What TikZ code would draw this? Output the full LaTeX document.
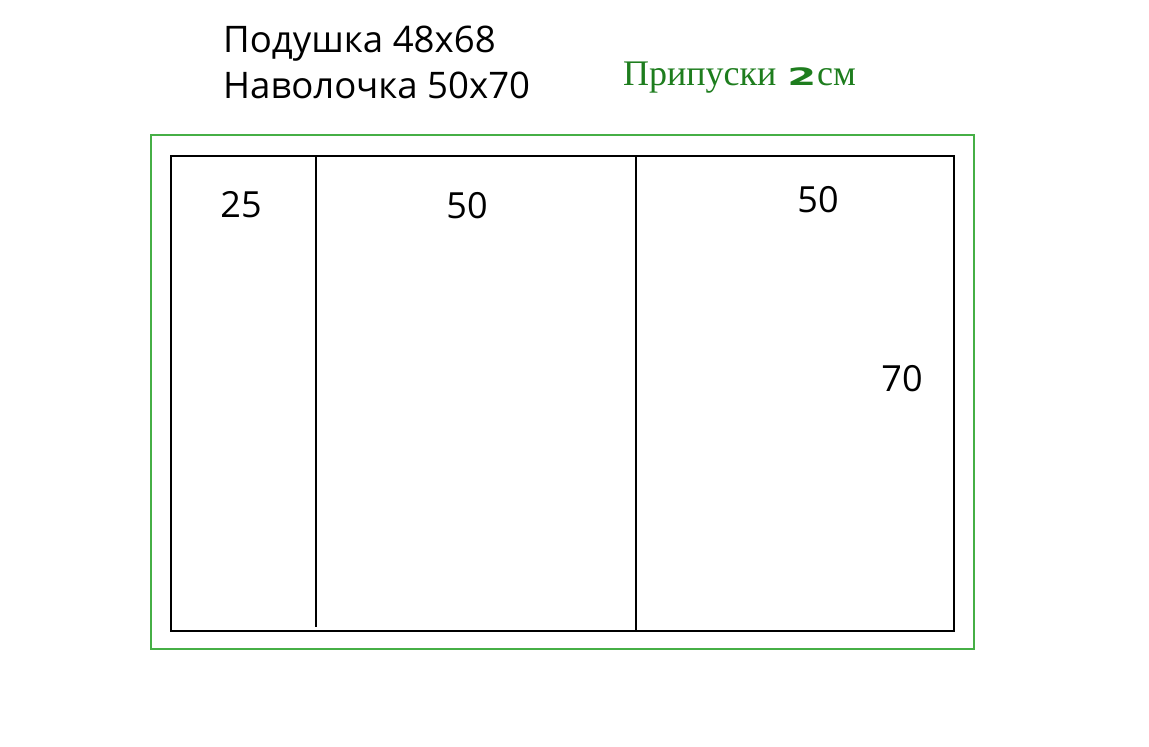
\documentclass[tikz,border=0pt]{standalone}
\usepackage{fontspec}
\setmainfont{Open Sans}
\newfontfamily\allowfont{Liberation Serif}
\newfontfamily\heavyfont{DejaVu Sans}
\usetikzlibrary{positioning}
\definecolor{seamgreen}{RGB}{70,175,70}
\definecolor{allowgreen}{RGB}{30,125,30}

\begin{document}
\begin{tikzpicture}[
    x=1pt, y=-1pt,
    sizelabel/.style={font=\fontsize{36}{40}\selectfont, inner sep=0pt},
    cutline/.style={draw=black, line width=1.8pt},
    seamline/.style={draw=seamgreen, line width=1.8pt}
]
    \useasboundingbox (0,0) rectangle (1149,747);
    % headings
    \node[anchor=base west, align=left, inner sep=0pt,
          font=\fontsize{36.6}{46}\selectfont] (title) at (223,98)
          {Подушка 48x68\\Наволочка 50x70};
    \node[anchor=base west, inner sep=0pt, text=allowgreen,
          font=\allowfont\fontsize{36}{40}\selectfont] (allow) at (623,85)
          {Припуски\hspace{0.3em}\scalebox{1.3}[0.75]{\heavyfont\bfseries\fontsize{32}{32}\selectfont 2}\kern1pt см};
    % outlines
    \draw[seamline] (151,135) rectangle (974,649);
    \draw[cutline] (171,156) rectangle (954,631);
    \coordinate (foldA top) at (316,156);
    \coordinate (foldA bot) at (316,627);
    \coordinate (foldB top) at (636,156);
    \coordinate (foldB bot) at (636,631);
    \draw[cutline] (foldA top) -- (foldA bot);
    \draw[cutline] (foldB top) -- (foldB bot);
    % sizes
    \node[sizelabel] (flap) at (241,205) {25};
    \node[sizelabel] (front) at (467,206) {50};
    \node[sizelabel] (back) at (818,200) {50};
    \node[sizelabel] (height) at (902,379) {70};
\end{tikzpicture}
\end{document}
